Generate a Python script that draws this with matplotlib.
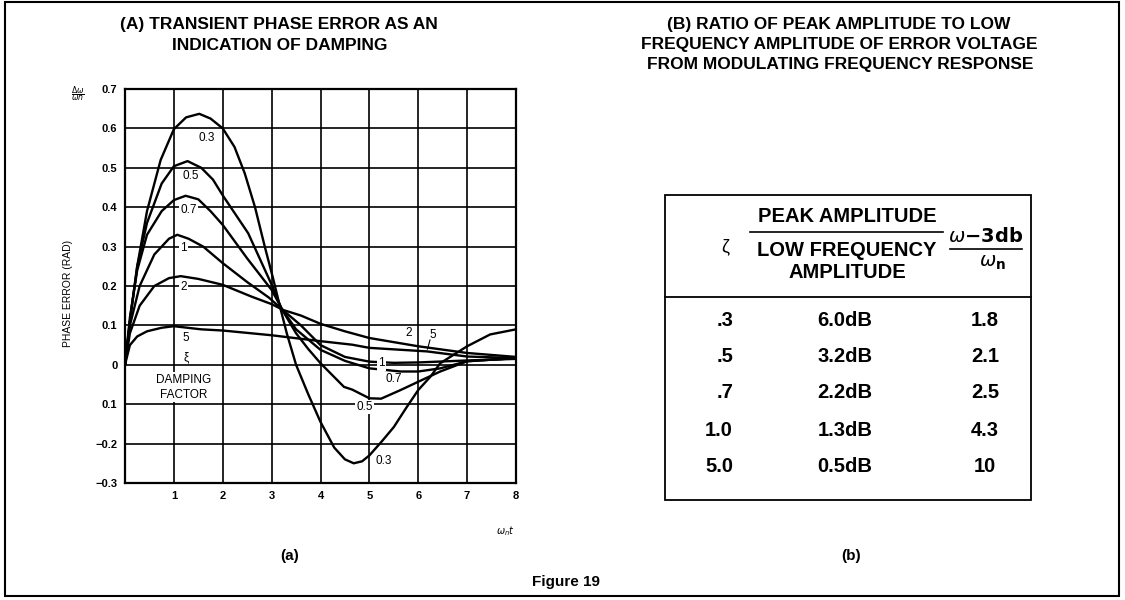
import numpy as np
import matplotlib.pyplot as plt
from matplotlib.lines import Line2D
from matplotlib.patches import Rectangle

plt.rcParams['font.family'] = ['Liberation Sans', 'DejaVu Sans']

# curves (x = wn*t, y = phase error)
x_03 = [0, 0.12, 0.25, 0.45, 0.73, 1.0, 1.25, 1.52, 1.75, 2.0, 2.24, 2.45, 2.66, 2.86, 3.02, 3.17,
        3.31, 3.5, 3.75, 4.0, 4.28, 4.5, 4.68, 4.85, 5.0, 5.25, 5.5, 5.75, 6.0, 6.25, 6.45, 7.0, 7.47, 8.0]
y_03 = [0, 0.13, 0.25, 0.39, 0.52, 0.598, 0.628, 0.637, 0.625, 0.60, 0.553, 0.486, 0.40, 0.30, 0.224, 0.148,
        0.08, 0.0, -0.075, -0.145, -0.21, -0.24, -0.25, -0.245, -0.23, -0.195, -0.158, -0.11, -0.064, -0.03, 0.004, 0.047, 0.077, 0.09]

x_05 = [0, 0.12, 0.25, 0.45, 0.75, 1.0, 1.28, 1.56, 1.8, 2.0, 2.52, 3.02, 3.2, 3.5, 3.75, 4.0, 4.48, 4.65, 5.0, 5.24, 5.64, 6.0, 6.45, 7.0, 8.0]
y_05 = [0, 0.13, 0.25, 0.36, 0.46, 0.504, 0.517, 0.50, 0.47, 0.43, 0.334, 0.198, 0.143, 0.08, 0.04, 0.004, -0.056, -0.063, -0.085, -0.086, -0.064, -0.043, -0.017, 0.009, 0.017]

x_07 = [0, 0.1, 0.25, 0.45, 0.75, 1.0, 1.24, 1.5, 1.75, 2.0, 2.5, 3.0, 3.22, 3.5, 4.0, 4.5, 5.0, 5.64, 6.0, 6.45, 7.0, 8.0]
y_07 = [0, 0.12, 0.24, 0.33, 0.39, 0.418, 0.429, 0.42, 0.39, 0.355, 0.27, 0.19, 0.14, 0.09, 0.038, 0.01, -0.009, -0.017, -0.017, -0.009, 0.009, 0.017]

x_1 = [0, 0.1, 0.3, 0.6, 0.9, 1.07, 1.3, 1.6, 2.0, 2.5, 2.95, 3.22, 3.6, 4.0, 4.5, 5.0, 5.5, 6.0, 7.0, 8.0]
y_1 = [0, 0.10, 0.20, 0.28, 0.32, 0.33, 0.32, 0.30, 0.258, 0.21, 0.17, 0.14, 0.10, 0.05, 0.02, 0.008, 0.005, 0.006, 0.011, 0.015]

x_2 = [0, 0.1, 0.3, 0.6, 0.9, 1.14, 1.5, 2.0, 2.59, 3.0, 3.24, 3.6, 4.0, 4.5, 5.0, 6.0, 7.0, 8.0]
y_2 = [0, 0.08, 0.15, 0.20, 0.22, 0.225, 0.218, 0.203, 0.173, 0.154, 0.139, 0.125, 0.104, 0.085, 0.068, 0.047, 0.03, 0.02]

x_5 = [0, 0.1, 0.25, 0.45, 0.75, 1.0, 1.56, 2.0, 3.0, 4.0, 4.65, 5.0, 6.18, 7.0, 8.0]
y_5 = [0, 0.05, 0.072, 0.085, 0.094, 0.098, 0.09, 0.087, 0.075, 0.06, 0.051, 0.043, 0.034, 0.021, 0.017]

y_ticks = [0.7, 0.6, 0.5, 0.4, 0.3, 0.2, 0.1, 0, -0.1, -0.2, -0.3]
y_tick_labels = ['0.7', '0.6', '0.5', '0.4', '0.3', '0.2', '0.1', '0', '0.1', '\u22120.2', '\u22120.3']
x_ticks = [1, 2, 3, 4, 5, 6, 7, 8]

# table (b)
zeta = ['.3', '.5', '.7', '1.0', '5.0']
peak_amp = ['6.0dB', '3.2dB', '2.2dB', '1.3dB', '0.5dB']
bw_ratio = ['1.8', '2.1', '2.5', '4.3', '10']

W, H = 1125, 600
fig = plt.figure(figsize=(W / 100, H / 100), dpi=100)

ax = fig.add_axes([125 / W, 1 - 483 / H, 391 / W, 394 / H])
for xs, ys in [(x_03, y_03), (x_05, y_05), (x_07, y_07), (x_1, y_1), (x_2, y_2), (x_5, y_5)]:
    ax.plot(xs, ys, color='black', lw=1.7, zorder=3, solid_joinstyle='round')
ax.set_xlim(0, 8)
ax.set_ylim(-0.3, 0.7)
ax.set_xticks(x_ticks)
ax.set_xticklabels([str(v) for v in x_ticks], fontsize=8, fontweight='bold')
ax.set_yticks(y_ticks)
ax.set_yticklabels(y_tick_labels, fontsize=8, fontweight='bold')
ax.tick_params(axis='x', length=0, pad=6)
ax.tick_params(axis='y', length=0, pad=5.5)
ax.grid(True, color='black', lw=1.2)
for s in ax.spines.values():
    s.set_linewidth(1.6)
ax.set_ylabel('PHASE ERROR (RAD)', fontsize=7.5)
ax.yaxis.set_label_coords(-0.133, 0.48)

wb = dict(facecolor='white', edgecolor='none', pad=1.0)
lab = dict(fontsize=8.5, ha='center', va='center', zorder=5)
ax.text(1.68, 0.575, '0.3', bbox=wb, **lab)
ax.text(1.35, 0.478, '0.5', bbox=wb, **lab)
ax.text(1.3, 0.393, '0.7', bbox=wb, **lab)
ax.text(1.2, 0.297, '1', bbox=wb, **lab)
ax.text(1.2, 0.198, '2', bbox=wb, **lab)
ax.text(1.25, 0.069, '5', **lab)
ax.text(1.25, 0.02, '\u03be', **lab)
ax.text(1.2, -0.038, 'DAMPING', bbox=wb, **lab)
ax.text(1.2, -0.076, 'FACTOR', bbox=wb, **lab)
ax.text(5.8, 0.08, '2', **lab)
ax.text(6.3, 0.076, '5', **lab)
ax.plot([6.24, 6.19], [0.063, 0.04], color='black', lw=0.8, zorder=4)
ax.text(5.25, 0.004, '1', bbox=wb, **lab)
ax.text(5.5, -0.035, '0.7', **lab)
ax.text(4.9, -0.107, '0.5', bbox=wb, **lab)
ax.text(5.3, -0.245, '0.3', **lab)

# overlay in pixel coordinates for titles, table and frame
ov = fig.add_axes([0, 0, 1, 1])
ov.set_xlim(0, W)
ov.set_ylim(H, 0)
ov.axis('off')
ov.patch.set_alpha(0)

tt = dict(fontsize=12.5, fontweight='bold', ha='center', va='center')
ov.text(279, 25, '(A) TRANSIENT PHASE ERROR AS AN', **tt)
ov.text(280, 45, 'INDICATION OF DAMPING', **tt)
ov.text(839, 25, '(B) RATIO OF PEAK AMPLITUDE TO LOW', **tt)
ov.text(839, 45, 'FREQUENCY AMPLITUDE OF ERROR VOLTAGE', **tt)
ov.text(840, 65, 'FROM MODULATING FREQUENCY RESPONSE', **tt)
ft = dict(fontsize=11, fontweight='bold', ha='center', va='center')
ov.text(290, 556, '(a)', **ft)
ov.text(851, 556, '(b)', **ft)
ov.text(566, 582, 'Figure 19', **ft)
ov.text(78, 95, r'$\frac{\Delta\omega}{\omega n}$', fontsize=8, ha='center', va='center')
ov.text(505, 531, r'$\omega_n t$', fontsize=7, ha='center', va='center')

# frame round the whole figure
ov.add_patch(Rectangle((5, 2), 1114, 594, fill=False, lw=1.5, ec='black'))

# table
tf = dict(fontsize=14.5, fontweight='bold', ha='center', va='center')
ov.add_patch(Rectangle((665, 195), 366, 305, fill=False, lw=1.3, ec='black'))
ov.add_line(Line2D([665, 1031], [297, 297], color='black', lw=1.3))
ov.text(725, 247, '\u03b6', fontsize=13, ha='center', va='center')
ov.text(847, 217, 'PEAK AMPLITUDE', **tf)
ov.add_line(Line2D([750, 943], [232, 232], color='black', lw=1.2))
ov.text(847, 250, 'LOW FREQUENCY', **tf)
ov.text(847, 273, 'AMPLITUDE', **tf)
ov.text(986, 236, r'$\omega$' + r'$\mathbf{-3db}$', fontsize=14, ha='center', va='center')
ov.add_line(Line2D([950, 1022], [249, 249], color='black', lw=1.2))
ov.text(992, 263, r'$\omega_\mathbf{n}$', fontsize=14, ha='center', va='center')
row_y = [320, 357, 393, 430, 466]
for i in range(len(zeta)):
    ov.text(733, row_y[i], zeta[i], fontsize=14.5, fontweight='bold', ha='right', va='center')
    ov.text(845, row_y[i], peak_amp[i], **tf)
    ov.text(985, row_y[i], bw_ratio[i], **tf)

fig.savefig('out.png', dpi=100)
